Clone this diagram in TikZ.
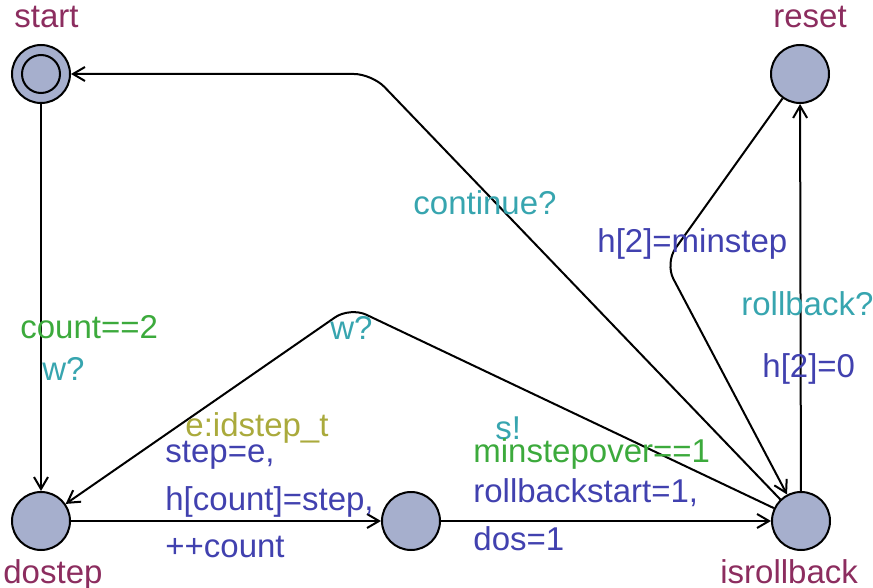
\documentclass[tikz,border=0pt]{standalone}
\usepackage{fontspec}
\setmainfont{Liberation Sans}
\usetikzlibrary{arrows.meta}

\definecolor{locfill}{RGB}{166,175,205}
\definecolor{locname}{RGB}{140,45,95}
\definecolor{guardc}{RGB}{60,170,60}
\definecolor{syncc}{RGB}{55,165,175}
\definecolor{updc}{RGB}{65,65,175}
\definecolor{selc}{RGB}{170,170,60}

\begin{document}
\begin{tikzpicture}[x=0.5pt, y=-0.5pt,
    loc/.style={circle, draw, line width=1pt, fill=locfill, minimum size=29pt, inner sep=0pt},
    edge/.style={line width=1pt, -{Straight Barb[length=6pt, width=7pt, line width=1pt]}},
    lbl/.style={anchor=base west, inner sep=0pt, font=\fontsize{16.5}{20}\selectfont}]
    \useasboundingbox (0,0) rectangle (873,588);

    % locations
    \node[loc] (start) at (41, 74) {};
    \node[circle, draw, line width=1pt, fill=locfill, minimum size=19pt, inner sep=0pt] at (start) {};
    \node[loc] (reset) at (800, 74) {};
    \node[loc] (dostep) at (41, 521) {};
    \node[loc] (mid) at (411, 521) {};
    \node[loc] (isrollback) at (801, 521) {};

    % bend points
    \coordinate (Bc) at (372, 74);
    \coordinate (Bw) at (350, 307);
    \coordinate (Bh) at (665, 263);

    % edges
    \draw[edge] (start) -- (dostep);
    \draw[edge] (dostep) -- (mid);
    \draw[edge] (mid) -- (isrollback);
    \draw[edge] (isrollback) -- (reset);
    \draw[edge, rounded corners=9pt] (isrollback) -- (Bc) -- (start);
    \draw[edge, rounded corners=9pt] (isrollback) -- (Bw) -- (dostep);
    \draw[edge, rounded corners=9pt] (reset) -- (Bh) -- (isrollback);

    % location names
    \node[lbl, text=locname] at (14, 28) {start};
    \node[lbl, text=locname] at (773, 28) {reset};
    \node[lbl, text=locname] at (3, 583) {dostep};
    \node[lbl, text=locname] at (720, 583) {isrollback};

    % edge labels
    \node[lbl, text=guardc] at (20, 338) {count==2};
    \node[lbl, text=syncc] at (42, 380) {w?};
    \node[lbl, text=syncc] at (413, 215) {continue?};
    \node[lbl, text=syncc] at (330, 340) {w?};
    \node[lbl, text=updc] at (597, 253) {h[2]=minstep};
    \node[lbl, text=syncc] at (741, 315) {rollback?};
    \node[lbl, text=updc] at (762, 378) {h[2]=0};
    \node[lbl, text=selc] at (185, 437) {e:idstep\_t};
    \node[lbl, text=updc] at (165, 462) {step=e,};
    \node[lbl, text=updc] at (165, 510) {h[count]=step,};
    \node[lbl, text=updc] at (165, 557) {++count};
    \node[lbl, text=syncc] at (495, 439) {s!};
    \node[lbl, text=guardc] at (473, 462) {minstepover==1};
    \node[lbl, text=updc] at (473, 502) {rollbackstart=1,};
    \node[lbl, text=updc] at (473, 550) {dos=1};
\end{tikzpicture}
\end{document}
